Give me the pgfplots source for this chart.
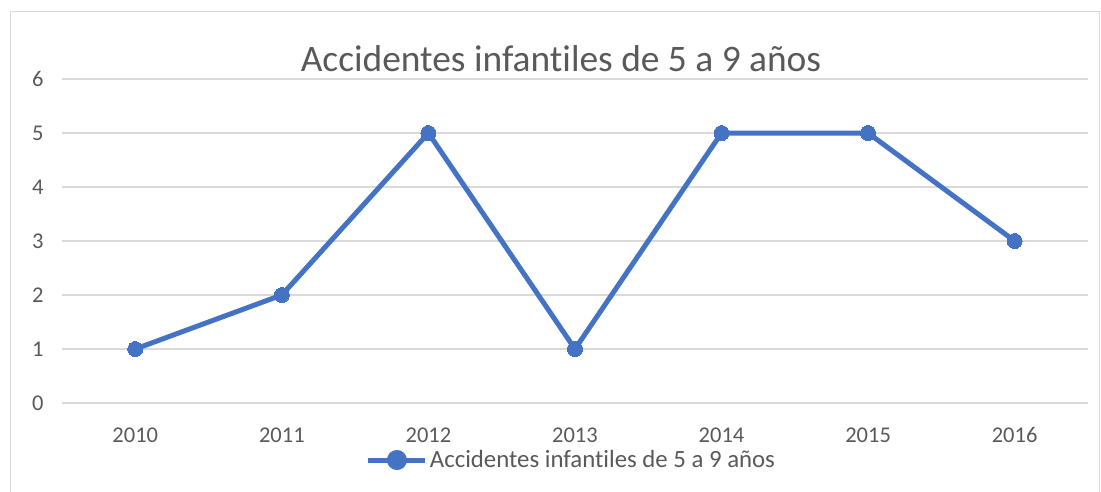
\documentclass[border=0pt]{standalone}
\usepackage{pgfplots}
\pgfplotsset{compat=1.18}
\usepackage{fontspec}
\setmainfont{Carlito}[Ligatures=NoCommon]
\definecolor{ln}{HTML}{4472C4}
\definecolor{txt}{HTML}{595959}
\definecolor{grd}{HTML}{D9D9D9}
\begin{document}
\begin{tikzpicture}
\useasboundingbox (0pt,0pt) rectangle (1101pt,491pt);
\draw[grd, line width=1pt] (10pt,-5pt) rectangle (1099.5pt,479pt);
\begin{axis}[at={(62pt,88pt)}, anchor=south west, scale only axis,
  width=1026pt, height=324pt,
  xmin=2009.5, xmax=2016.5, ymin=0, ymax=6,
  xtick={2010,2011,2012,2013,2014,2015,2016},
  xticklabels={2010,2011,2012,2013,2014,2015,2016},
  ytick={0,1,2,3,4,5,6},
  axis line style={draw=none}, major tick length=0pt,
  ymajorgrids, grid style={grd, line width=1.2pt},
  /pgf/number format/assume math mode=true,
  tick label style={text=txt, font=\fontsize{22.5}{26}\selectfont},
  xticklabel style={yshift=-21pt},
  yticklabel style={xshift=-15pt},
  clip=false,
  legend style={at={(0.4966,-0.176)}, anchor=center, draw=none, fill=none,
    font=\fontsize{24.8}{28}\selectfont, text=txt, inner sep=0pt,
    /tikz/every even column/.append style={column sep=0pt}},
  legend cell align=left,
  legend image code/.code={\draw[ln, line width=5pt] (0pt,0pt)--(57pt,0pt);
     \fill[ln] (28.5pt,0pt) circle (7.5pt);},
]
\addplot[ln, line width=5pt, mark=*, mark size=7.5pt, mark options={fill=ln, draw=ln, line width=0pt}]
 coordinates {(2010,1) (2011,2) (2012,5) (2013,1) (2014,5) (2015,5) (2016,3)};
\addlegendentry{Accidentes infantiles de 5 a 9 años}
\end{axis}
\node[text=txt, font=\fontsize{37.4}{40}\selectfont] at (561pt,432pt) {Accidentes infantiles de 5 a 9 años};
\end{tikzpicture}
\end{document}
